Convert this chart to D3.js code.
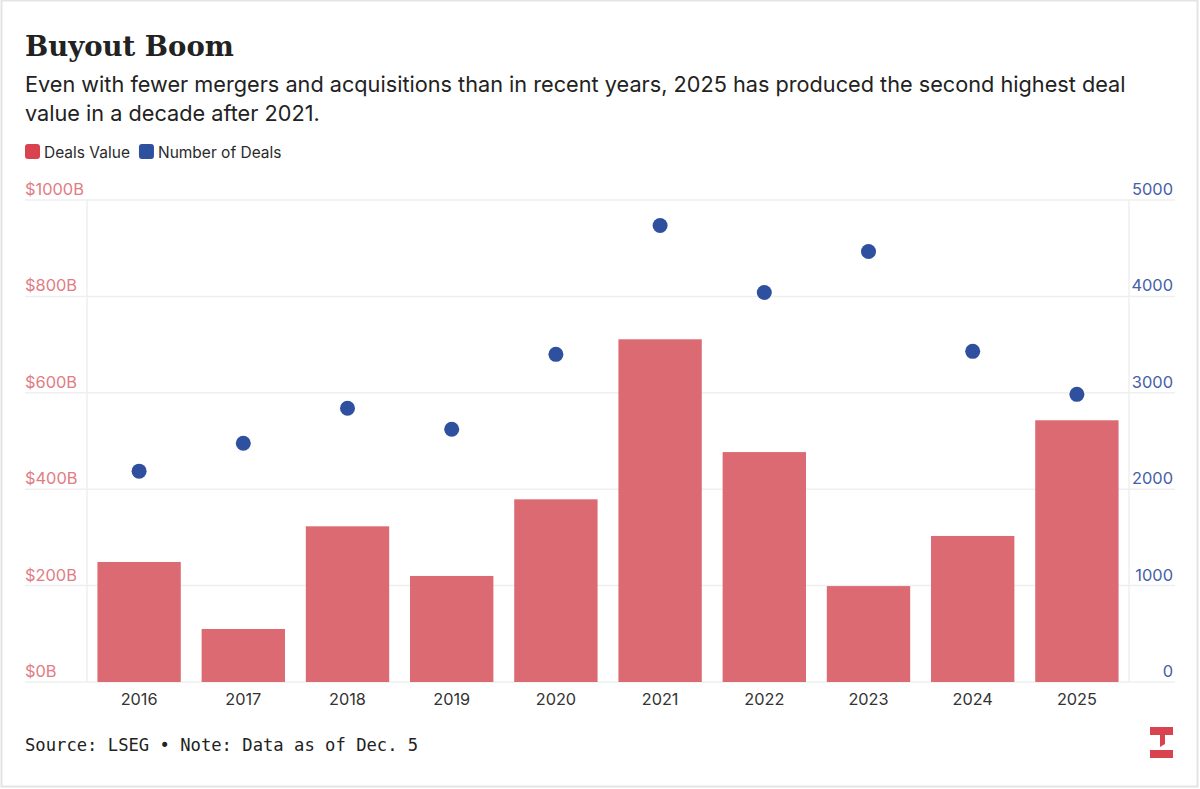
<!DOCTYPE html>
<html>
<head>
<meta charset="utf-8">
<script src="https://cdn.jsdelivr.net/npm/d3@7"></script>
<style>
  html, body { margin: 0; padding: 0; background: #fff; }
  svg { display: block; }
</style>
</head>
<body>
<svg id="chart"></svg>
<script>
const years = ['2016', '2017', '2018', '2019', '2020', '2021', '2022', '2023', '2024', '2025'];
const dealValue = [249, 110, 323, 220, 379, 711, 477, 199, 303, 543];
const dealCount = [2187, 2477, 2839, 2622, 3399, 4736, 4041, 4466, 3430, 2984];
const valueTicks = [0, 200, 400, 600, 800, 1000];
const countTicks = [0, 1000, 2000, 3000, 4000, 5000];

const W = 1200, H = 789;
const red = '#dc6a72', blue = '#2f4f9f';

const svg = d3.select('#chart').attr('width', W).attr('height', H);

// frame
svg.append('rect')
  .attr('x', 1.5).attr('y', 0.5)
  .attr('width', W - 4).attr('height', H - 3)
  .attr('fill', '#fff').attr('stroke', '#e4e4e4').attr('stroke-width', 2);

const margin = {top: 200, right: 71, bottom: 107, left: 87};
const width = W - margin.left - margin.right;
const height = H - margin.top - margin.bottom;

svg.append('text')
  .attr('x', 25).attr('y', 56)
  .attr('font-family', 'DejaVu Serif, serif').attr('font-weight', 'bold')
  .attr('font-size', 27.5).attr('fill', '#222')
  .text('Buyout Boom');

const sub = svg.append('text')
  .attr('font-family', 'Inter, sans-serif').attr('font-size', 21.7).attr('fill', '#222');
sub.append('tspan').attr('x', 25).attr('y', 92)
  .text('Even with fewer mergers and acquisitions than in recent years, 2025 has produced the second highest deal');
sub.append('tspan').attr('x', 25).attr('y', 121)
  .text('value in a decade after 2021.');

// legend
const legend = [{label: 'Deals Value', color: '#d9434f'}, {label: 'Number of Deals', color: '#2f4f9f'}];
let lx = 25;
legend.forEach(l => {
  svg.append('rect').attr('x', lx).attr('y', 144).attr('width', 15).attr('height', 15)
    .attr('rx', 3).attr('fill', l.color);
  const t = svg.append('text').attr('x', lx + 19).attr('y', 157.5)
    .attr('font-family', 'Inter, sans-serif').attr('font-size', 15.5).attr('fill', '#2a2a2a')
    .text(l.label);
  lx += 19 + t.node().getComputedTextLength() + 9;
});

const g = svg.append('g').attr('transform', `translate(${margin.left},${margin.top})`);

const x = d3.scaleBand().domain(years).range([0, width]).paddingInner(0.2).paddingOuter(0.1);
const yL = d3.scaleLinear().domain([0, 1000]).range([height, 0]);
const yR = d3.scaleLinear().domain([0, 5000]).range([height, 0]);

// grid
g.append('g').selectAll('line').data(valueTicks).join('line')
  .attr('x1', 25 - margin.left).attr('x2', width + 46)
  .attr('y1', d => yL(d)).attr('y2', d => yL(d))
  .attr('stroke', '#efefef').attr('stroke-width', 1.5);
g.append('g').selectAll('line').data([0, width]).join('line')
  .attr('x1', d => d).attr('x2', d => d)
  .attr('y1', 0).attr('y2', height)
  .attr('stroke', '#efefef').attr('stroke-width', 1.5);

// left axis
g.append('g').selectAll('text').data(valueTicks).join('text')
  .attr('x', 25 - margin.left).attr('y', d => yL(d) - 5)
  .attr('font-family', 'Inter, sans-serif').attr('font-size', 16.4).attr('fill', '#e27c83')
  .text(d => `$${d}B`);

// right axis
g.append('g').selectAll('text').data(countTicks).join('text')
  .attr('x', width + 44).attr('y', d => yR(d) - 5)
  .attr('text-anchor', 'end')
  .attr('font-family', 'Inter, sans-serif').attr('font-size', 16.4).attr('fill', '#4560a8')
  .text(d => d);

// bars
g.append('g').selectAll('rect').data(years).join('rect')
  .attr('x', d => x(d)).attr('width', x.bandwidth())
  .attr('y', (d, i) => yL(dealValue[i]))
  .attr('height', (d, i) => height - yL(dealValue[i]))
  .attr('fill', red);

// dots
g.append('g').selectAll('circle').data(years).join('circle')
  .attr('cx', d => x(d) + x.bandwidth() / 2)
  .attr('cy', (d, i) => yR(dealCount[i]))
  .attr('r', 7.5)
  .attr('fill', blue);

// x axis
const xAxis = d3.axisBottom(x).tickSize(0).tickPadding(11);
const ax = g.append('g').attr('transform', `translate(0,${height})`).call(xAxis);
ax.select('.domain').remove();
ax.selectAll('text')
  .attr('font-family', 'Inter, sans-serif').attr('font-size', 16.3).attr('fill', '#333');

// source
svg.append('text')
  .attr('x', 25).attr('y', 751)
  .attr('font-family', 'DejaVu Sans Mono, monospace').attr('font-size', 17.2).attr('fill', '#222')
  .text('Source: LSEG \u2022 Note: Data as of Dec. 5');

// logo
svg.append('path')
  .attr('d', 'M1150,727 H1173 V735 H1165 V744 L1160,747 V735 H1150 Z M1150,750 H1173 V758 H1150 Z')
  .attr('fill', '#d9434f');
</script>
</body>
</html>
